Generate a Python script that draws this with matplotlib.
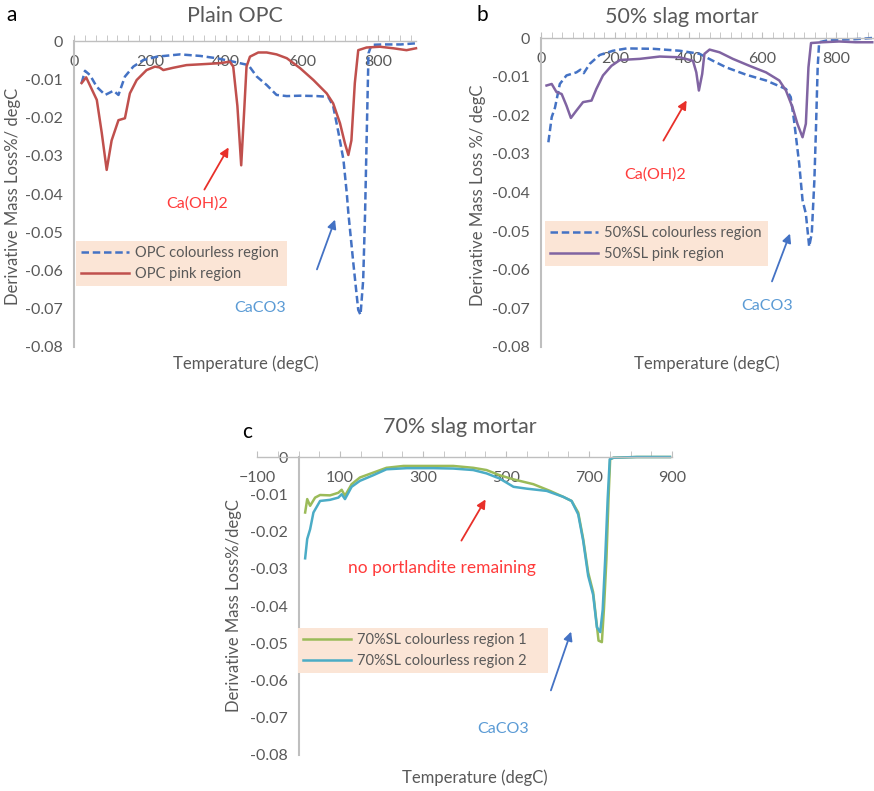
import numpy as np
import matplotlib
matplotlib.use('Agg')
import matplotlib.pyplot as plt
from matplotlib.ticker import FuncFormatter, AutoMinorLocator

plt.rcParams['font.family'] = ['Lato', 'DejaVu Sans']

# ---- data (temperature degC, derivative mass loss %/degC) ----
opc_clear_T = [20, 29, 42, 60, 82, 104, 117, 134, 156, 182, 218, 279, 332, 375, 419, 459, 481, 507, 533,
               560, 595, 639, 669, 682, 696, 709, 718, 722, 735, 748, 754, 761, 766, 770, 775, 783, 814, 860, 900]
opc_clear_v = [-0.011, -0.0078, -0.0089, -0.012, -0.0141, -0.013, -0.0141, -0.0093, -0.0067, -0.005, -0.0041,
               -0.0035, -0.0039, -0.0045, -0.0054, -0.0063, -0.0093, -0.0115, -0.0141, -0.0144, -0.0143, -0.0144,
               -0.0146, -0.017, -0.024, -0.031, -0.04, -0.045, -0.058, -0.0703, -0.0716, -0.0625, -0.045, -0.026,
               -0.0032, -0.001, -0.0009, -0.0009, -0.0006]
opc_pink_T = [20, 32, 60, 73, 86, 99, 117, 134, 147, 165, 191, 213, 225, 235, 261, 296, 332, 384, 410, 419, 430,
              440, 448, 454, 463, 485, 507, 533, 560, 595, 630, 665, 682, 700, 713, 722, 730, 739, 748, 770, 805,
              840, 875, 900]
opc_pink_v = [-0.011, -0.0095, -0.0154, -0.024, -0.0337, -0.026, -0.0207, -0.0202, -0.0137, -0.0102, -0.0076,
              -0.0067, -0.0069, -0.0076, -0.007, -0.0063, -0.0061, -0.0058, -0.0054, -0.0067, -0.017, -0.0325,
              -0.018, -0.0067, -0.0041, -0.003, -0.003, -0.0035, -0.0045, -0.0071, -0.0102, -0.0137, -0.0163,
              -0.0215, -0.0268, -0.0298, -0.026, -0.011, -0.0024, -0.0017, -0.0015, -0.0019, -0.0024, -0.0019]

sl50_clear_T = [20, 29, 38, 51, 69, 96, 107, 116, 132, 159, 195, 232, 304, 376, 430, 466, 502, 556, 610, 664,
                677, 686, 700, 709, 718, 727, 734, 741, 745, 750, 754, 781, 853, 898]
sl50_clear_v = [-0.027, -0.0205, -0.018, -0.0119, -0.0097, -0.0089, -0.0082, -0.0091, -0.0067, -0.0044, -0.0033,
                -0.0027, -0.0028, -0.0033, -0.0041, -0.0059, -0.0076, -0.0095, -0.011, -0.0132, -0.0153, -0.0214,
                -0.0326, -0.042, -0.0455, -0.054, -0.0506, -0.037, -0.0248, -0.0076, -0.0011, -0.0005, -0.0003, 0.0]
sl50_pink_T = [15, 29, 42, 56, 69, 81, 96, 114, 137, 150, 168, 191, 214, 268, 322, 376, 412, 421, 428, 437, 443,
               457, 484, 520, 565, 610, 646, 664, 682, 695, 709, 718, 725, 732, 763, 808, 853, 898]
sl50_pink_v = [-0.0123, -0.0119, -0.014, -0.0145, -0.0175, -0.0207, -0.0188, -0.0166, -0.0162, -0.0132, -0.0097,
               -0.0072, -0.0057, -0.0054, -0.0048, -0.005, -0.0059, -0.0089, -0.0136, -0.0093, -0.0041, -0.003,
               -0.0037, -0.0054, -0.0072, -0.0089, -0.011, -0.0136, -0.018, -0.0222, -0.0257, -0.0222, -0.0076,
               -0.0013, -0.0011, -0.0009, -0.0011, -0.0011]

sl70_r1_T = [16, 21, 28, 40, 52, 76, 96, 104, 112, 128, 148, 180, 212, 253, 309, 373, 421, 453, 485, 518, 566,
             606, 638, 658, 674, 686, 698, 710, 723, 731, 736, 742, 747, 751, 759, 815, 895]
sl70_r1_v = [-0.0149, -0.0113, -0.0131, -0.0109, -0.0102, -0.0103, -0.0096, -0.0088, -0.0104, -0.0073, -0.0055,
             -0.0042, -0.0029, -0.0024, -0.0024, -0.0024, -0.0029, -0.0035, -0.0049, -0.006, -0.0073, -0.0091,
             -0.0107, -0.0118, -0.0149, -0.022, -0.031, -0.0363, -0.0493, -0.0497, -0.0408, -0.0274, -0.0113,
             -0.0006, -0.0002, 0.0, 0.0]
sl70_r2_T = [16, 21, 28, 36, 52, 76, 96, 104, 112, 128, 148, 180, 212, 261, 325, 373, 421, 453, 485, 518, 550,
             598, 638, 658, 674, 686, 698, 710, 719, 727, 733, 739, 745, 750, 759, 815, 895]
sl70_r2_v = [-0.0272, -0.022, -0.0194, -0.0149, -0.0118, -0.0115, -0.0109, -0.01, -0.0113, -0.008, -0.0064,
             -0.0049, -0.0033, -0.003, -0.003, -0.0031, -0.0035, -0.0044, -0.0058, -0.008, -0.0085, -0.0091,
             -0.0107, -0.0118, -0.0154, -0.0225, -0.0319, -0.037, -0.0457, -0.047, -0.041, -0.0274, -0.0113,
             -0.0006, -0.0002, 0.0, 0.0]

W, H = 874, 791
GREY = '#595959'
AXCOL = '#bfbfbf'
TICK_FS = 11.5
LAB_FS = 12
NOTE_FS = 11.5


def fx(px):
    return px / W


def fy(py):
    return 1 - py / H


def ylab(v, pos):
    return '0' if abs(v) < 1e-9 else '%.2f' % v


def setup(ax, xmin, xmax, xmajor, xminor_n, xstart):
    ax.set_xlim(xmin, xmax)
    ax.set_ylim(-0.08, 0)
    for s in ['top', 'right']:
        ax.spines[s].set_visible(False)
    ax.spines['bottom'].set_position(('data', 0))
    ax.spines['left'].set_position(('data', 0))
    ax.spines['bottom'].set_color(AXCOL)
    ax.spines['left'].set_color(AXCOL)
    ax.spines['bottom'].set_linewidth(1.0)
    ax.spines['left'].set_linewidth(1.5)
    ax.set_xticks(np.arange(xstart, xmax + 1, xmajor))
    ax.xaxis.set_minor_locator(AutoMinorLocator(xminor_n))
    ax.set_yticks(np.arange(-0.08, 0.001, 0.01))
    ax.yaxis.set_major_formatter(FuncFormatter(ylab))
    ax.tick_params(axis='x', which='both', direction='in', colors=AXCOL, labelcolor=GREY,
                   labelsize=TICK_FS, pad=10, length=4)
    ax.tick_params(axis='y', length=0, labelcolor=GREY, labelsize=TICK_FS, pad=8)
    ax.patch.set_alpha(0)


def legend(ax, handles, labels, x0, y0, x1, y1):
    leg = ax.legend(handles, labels, loc='upper left',
                    bbox_to_anchor=(fx(x0), fy(y1), fx(x1) - fx(x0), fy(y0) - fy(y1)),
                    bbox_transform=fig.transFigure, mode='expand', fontsize=10.5,
                    frameon=True, fancybox=False, facecolor='#fbe5d6', edgecolor='none', framealpha=1,
                    borderaxespad=0, borderpad=0.35, labelspacing=0.45, handlelength=3.3,
                    handletextpad=0.4)
    for t in leg.get_texts():
        t.set_color(GREY)


def arrow(x0, y0, x1, y1, color):
    fig.add_artist(matplotlib.patches.FancyArrowPatch(
        (fx(x0), fy(y0)), (fx(x1), fy(y1)), transform=fig.transFigure,
        arrowstyle='-|>', mutation_scale=13, color=color, lw=1.3))


def labels(ax, ylabel, ylx, yly, xlx, xly):
    ax.set_ylabel(ylabel, color=GREY, fontsize=LAB_FS)
    ax.yaxis.set_label_coords(fx(ylx), fy(yly), transform=fig.transFigure)
    ax.set_xlabel('Temperature (degC)', color=GREY, fontsize=LAB_FS)
    ax.xaxis.set_label_coords(fx(xlx), fy(xly), transform=fig.transFigure)


fig = plt.figure(figsize=(8.74, 7.91), dpi=100)

RED_T = '#ff3b3b'
RED_A = '#e8302a'
BLUE_T = '#5b9bd5'
BLUE_A = '#4472c4'

# ---- panel a ----
ax1 = fig.add_axes([fx(74), fy(347), fx(416) - fx(74), fy(41) - fy(347)])
setup(ax1, 0, 900, 200, 7, 0)
l1, = ax1.plot(opc_clear_T, opc_clear_v, color='#4472c4', lw=1.8, ls=(0, (3, 1.5)), clip_on=False)
l2, = ax1.plot(opc_pink_T, opc_pink_v, color='#c0504d', lw=1.8, clip_on=False)
legend(ax1, [l1, l2], ['OPC colourless region', 'OPC pink region'], 76, 241, 287, 286)
labels(ax1, 'Derivative Mass Loss%/ degC', 21, 196, 246, 355)
fig.text(fx(235), fy(16), 'Plain OPC', color=GREY, fontsize=15.5, ha='center', va='center')
fig.text(fx(12), fy(15), 'a', color='black', fontsize=15, ha='center', va='center')
fig.text(fx(197), fy(204), 'Ca(OH)2', color=RED_T, fontsize=NOTE_FS, ha='center', va='center')
arrow(203, 192, 230, 145, RED_A)
fig.text(fx(260), fy(308), 'CaCO3', color=BLUE_T, fontsize=NOTE_FS, ha='center', va='center')
arrow(316, 272, 336, 217, BLUE_A)

# ---- panel b ----
ax2 = fig.add_axes([fx(541), fy(347), fx(873) - fx(541), fy(38) - fy(347)])
setup(ax2, 0, 900, 200, 7, 0)
l3, = ax2.plot(sl50_clear_T, sl50_clear_v, color='#4472c4', lw=1.8, ls=(0, (3, 1.5)), clip_on=False)
l4, = ax2.plot(sl50_pink_T, sl50_pink_v, color='#8064a2', lw=1.8, clip_on=False)
legend(ax2, [l3, l4], ['50%SL colourless region', '50%SL pink region'], 545, 221, 768, 269)
labels(ax2, 'Derivative Mass Loss %/ degC', 486, 195, 707, 355)
fig.text(fx(682), fy(17), '50% slag mortar', color=GREY, fontsize=15.5, ha='center', va='center')
fig.text(fx(482), fy(15), 'b', color='black', fontsize=15, ha='center', va='center')
fig.text(fx(655), fy(175), 'Ca(OH)2', color=RED_T, fontsize=NOTE_FS, ha='center', va='center')
arrow(662, 143, 688, 98, RED_A)
fig.text(fx(767), fy(306), 'CaCO3', color=BLUE_T, fontsize=NOTE_FS, ha='center', va='center')
arrow(771, 284, 791, 231, BLUE_A)

# ---- panel c ----
ax3 = fig.add_axes([fx(257), fy(755), fx(672) - fx(257), fy(457) - fy(755)])
setup(ax3, -100, 900, 200, 4, -100)
l5, = ax3.plot(sl70_r1_T, sl70_r1_v, color='#9bbb59', lw=1.8, clip_on=False)
l6, = ax3.plot(sl70_r2_T, sl70_r2_v, color='#4bacc6', lw=1.8, clip_on=False)
legend(ax3, [l5, l6], ['70%SL colourless region 1', '70%SL colourless region 2'], 298, 628, 548, 673)
labels(ax3, 'Derivative Mass Loss%/degC', 242, 606, 475, 769)
fig.text(fx(460), fy(427), '70% slag mortar', color=GREY, fontsize=15.5, ha='center', va='center')
fig.text(fx(247), fy(432), 'c', color='black', fontsize=15, ha='center', va='center')
fig.text(fx(442), fy(568), 'no portlandite remaining', color=RED_T, fontsize=12.5, ha='center', va='center')
arrow(460, 543, 487, 497, RED_A)
fig.text(fx(503), fy(729), 'CaCO3', color=BLUE_T, fontsize=NOTE_FS, ha='center', va='center')
arrow(550, 693, 572, 629, BLUE_A)

fig.savefig('out.png', dpi=100)
